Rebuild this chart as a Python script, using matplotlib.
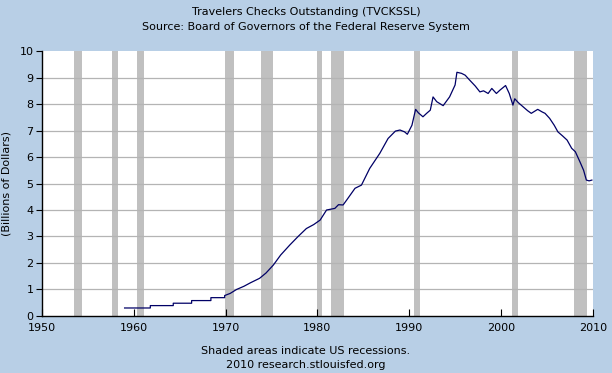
import matplotlib
matplotlib.use("Agg")
import matplotlib.pyplot as plt

# recessions (start, end) in decimal years
recessions = [
    (1953.5, 1954.4), (1957.6, 1958.3), (1960.3, 1961.1), (1969.9, 1970.9),
    (1973.9, 1975.2), (1980.0, 1980.5), (1981.5, 1982.9), (1990.5, 1991.2),
    (2001.2, 2001.9), (2007.9, 2009.4),
]

# Travelers checks outstanding, billions of dollars
years = [
    1959.0, 1961.8, 1961.8, 1964.3, 1964.3, 1966.3, 1966.3, 1968.4, 1968.4,
    1969.9, 1969.9, 1970.5, 1971.2, 1972.0, 1972.7, 1973.7, 1974.4, 1975.2,
    1976.0, 1977.0, 1977.9, 1978.8, 1979.6, 1980.3, 1981.0, 1981.9, 1982.3,
    1982.8, 1983.2, 1984.1, 1984.8, 1985.7, 1986.8, 1987.7, 1988.5, 1989.0,
    1989.5, 1989.8, 1990.3, 1990.7, 1991.0, 1991.5, 1991.9, 1992.3, 1992.6,
    1993.0, 1993.7, 1994.4, 1995.0, 1995.2, 1995.7, 1996.1, 1996.6, 1997.2,
    1997.7, 1998.1, 1998.6, 1999.0, 1999.5, 1999.9, 2000.5, 2000.9, 2001.3,
    2001.5, 2001.9, 2002.4, 2002.9, 2003.3, 2004.0, 2004.5, 2004.8, 2005.3,
    2005.8, 2006.2, 2006.7, 2007.2, 2007.7, 2008.1, 2008.6, 2009.0, 2009.3,
    2009.6, 2009.9,
]
values = [
    0.30, 0.30, 0.39, 0.39, 0.48, 0.48, 0.58, 0.58, 0.69,
    0.69, 0.77, 0.85, 1.00, 1.12, 1.25, 1.42, 1.62, 1.92,
    2.30, 2.68, 3.00, 3.30, 3.45, 3.62, 4.00, 4.06, 4.20,
    4.19, 4.38, 4.82, 4.94, 5.57, 6.14, 6.70, 6.98, 7.02,
    6.95, 6.86, 7.20, 7.80, 7.67, 7.52, 7.65, 7.77, 8.27,
    8.09, 7.94, 8.27, 8.72, 9.20, 9.16, 9.09, 8.90, 8.68,
    8.46, 8.50, 8.40, 8.59, 8.40, 8.53, 8.70, 8.40, 7.96,
    8.20, 8.05, 7.90, 7.75, 7.65, 7.80, 7.70, 7.65, 7.46,
    7.20, 6.95, 6.80, 6.64, 6.33, 6.20, 5.82, 5.50, 5.13,
    5.10, 5.13,
]

bg = "#b8cfe6"
fig = plt.figure(figsize=(6.12, 3.73), dpi=100, facecolor=bg)
ax = fig.add_axes([0.0686, 0.153, 0.9, 0.71])
ax.set_facecolor("white")

for start, end in recessions:
    ax.axvspan(start, end, color="#c0c0c0", lw=0, zorder=1)

for v in range(1, 10):
    ax.axhline(v, color="#b4b4b4", lw=0.9, zorder=1.5)

ax.plot(years, values, color="#000066", lw=0.9, zorder=3)

ax.set_xlim(1950, 2010)
ax.set_ylim(0, 10)
ax.set_xticks(range(1950, 2011, 10))
ax.set_yticks(range(0, 11))
for s in ["top", "right"]:
    ax.spines[s].set_visible(False)
ax.spines["left"].set_linewidth(1.0)
ax.spines["bottom"].set_linewidth(1.0)
ax.tick_params(axis="x", direction="in", length=5, labelsize=8, pad=5, colors="black")
ax.tick_params(axis="y", direction="out", length=4, labelsize=8, pad=2)
ax.set_ylabel("(Billions of Dollars)", fontsize=8, labelpad=6)

fig.text(0.5, 0.967, "Travelers Checks Outstanding (TVCKSSL)", ha="center", va="center", fontsize=8)
fig.text(0.5, 0.927, "Source: Board of Governors of the Federal Reserve System", ha="center", va="center", fontsize=8)
fig.text(0.5, 0.060, "Shaded areas indicate US recessions.", ha="center", va="center", fontsize=8)
fig.text(0.5, 0.022, "2010 research.stlouisfed.org", ha="center", va="center", fontsize=8)

fig.savefig("out.png", dpi=100, facecolor=bg)
plt.close(fig)
